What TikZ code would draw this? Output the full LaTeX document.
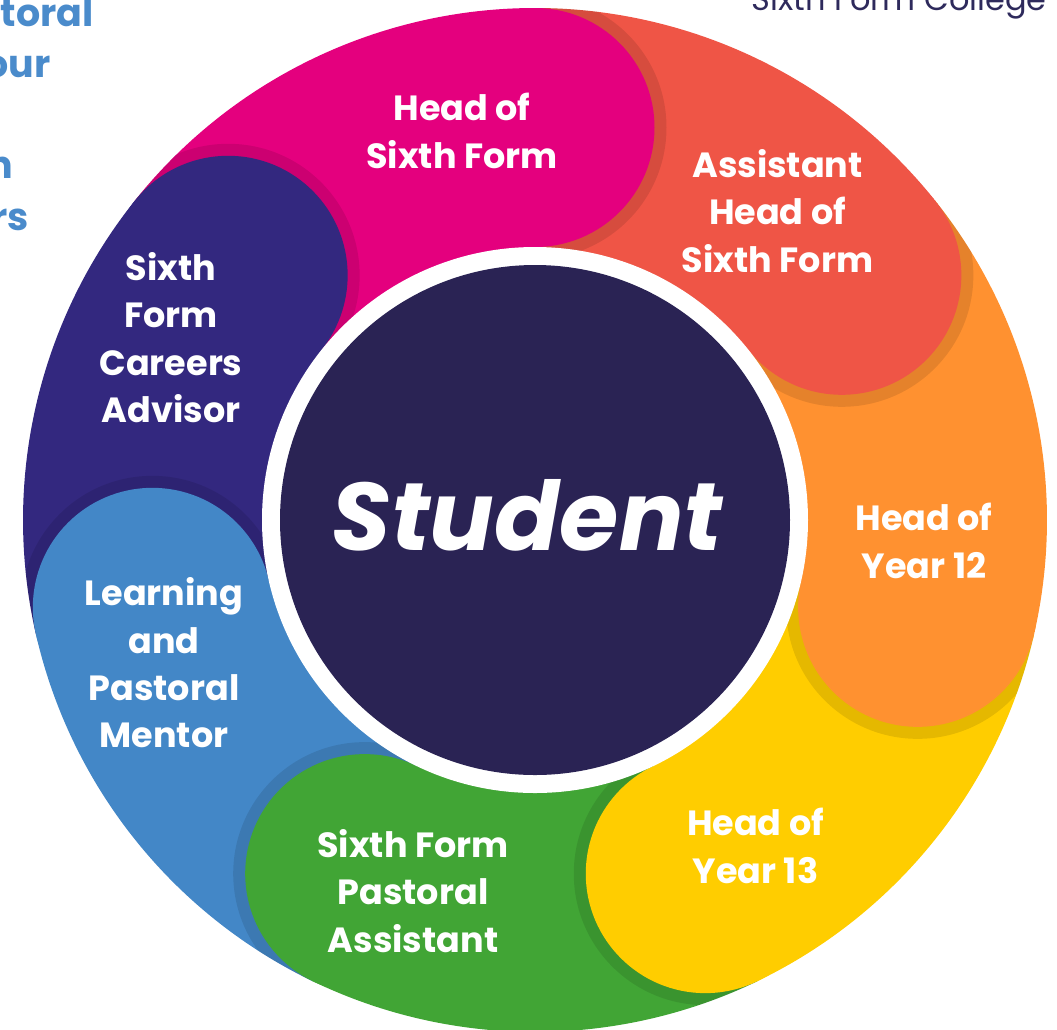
\documentclass[tikz,border=0pt]{standalone}
\usepackage{fontspec}
\setmainfont{Poppins}
\definecolor{cMag}{HTML}{E4007E}
\definecolor{cRed}{HTML}{EF5546}
\definecolor{cOra}{HTML}{FF9130}
\definecolor{cYel}{HTML}{FFCD00}
\definecolor{cGrn}{HTML}{41A535}
\definecolor{cBlu}{HTML}{4387C7}
\definecolor{cPur}{HTML}{33287F}
\definecolor{cCen}{HTML}{2A2354}
\definecolor{cFrag}{HTML}{4A8BCB}
\definecolor{cCol}{HTML}{2E2A5C}
\begin{document}
\begin{tikzpicture}[x=0.5pt,y=0.5pt,
  lab/.style={anchor=base,text=white,inner sep=0pt,font=\bfseries\fontsize{17.5}{21}\selectfont},
  frag/.style={anchor=base east,text=cFrag,inner sep=0pt,font=\bfseries\fontsize{19}{24}\selectfont},
  shade/.style={fill=black,fill opacity=0.1}]
\useasboundingbox (0,0) rectangle (1057,-1030);
\clip (0,0) rectangle (1057,-1030);
\begin{scope}[shift={(535,-520)}]
  % ring bodies
  \foreach \a/\b/\c in {141.4286/90/cMag, 90/38.5714/cRed, 38.5714/-12.8571/cOra,
      -12.8571/-64.2857/cYel, -64.2857/-115.7143/cGrn, -115.7143/-167.1429/cBlu,
      -167.1429/-218.5714/cPur}{
    \fill[\c] (0,0) -- (\a:512) arc[start angle=\a,end angle=\b,radius=512] -- cycle;
  }
  % caps with shadows
  \begin{scope}
    \clip (0,0) circle[radius=512];
    \foreach \t/\c in {90/cMag, 38.5714/cRed, -12.8571/cOra, -64.2857/cYel,
        -115.7143/cGrn, -167.1429/cBlu, 141.4286/cPur}{
      \begin{scope}
        \clip (0,0) -- (\t:800) -- ({\t-20}:800) -- ({\t-40}:800) -- cycle;
        \fill[shade] (\t:392.5) circle[radius=131.5];
      \end{scope}
      \fill[\c] (\t:392.5) circle[radius=119.5];
    }
  \end{scope}
  % centre
  \fill[white] (0,0) circle[radius=273];
  \fill[cCen] (0,0) circle[radius=255];
\end{scope}

\node[anchor=base,text=white,inner sep=0pt,font=\bfseries\itshape\fontsize{48}{48}\selectfont] (student) at (527,-550) {Student};

% Head of Sixth Form
\node[lab] (hsf1) at (462,-120) {Head of};
\node[lab] (hsf2) at (462,-168) {Sixth Form};
% Assistant Head of Sixth Form
\node[lab] (ahs1) at (777.5,-177) {Assistant};
\node[lab] (ahs2) at (777.5,-224) {Head of};
\node[lab] (ahs3) at (777.5,-272) {Sixth Form};
% Head of Year 12
\node[lab] (hy121) at (924,-530) {Head of};
\node[lab] (hy122) at (924,-578) {Year 12};
% Head of Year 13
\node[lab] (hy131) at (755.5,-835) {Head of};
\node[lab] (hy132) at (755.5,-883) {Year 13};
% Sixth Form Pastoral Assistant
\node[lab] (spa1) at (413,-857) {Sixth Form};
\node[lab] (spa2) at (413,-904) {Pastoral};
\node[lab] (spa3) at (413,-952) {Assistant};
% Learning and Pastoral Mentor
\node[lab] (lpm1) at (164,-605) {Learning};
\node[lab] (lpm2) at (164,-653) {and};
\node[lab] (lpm3) at (164,-700) {Pastoral};
\node[lab] (lpm4) at (164,-747) {Mentor};
% Sixth Form Careers Advisor
\node[lab] (sca1) at (171,-280) {Sixth};
\node[lab] (sca2) at (171,-327) {Form};
\node[lab] (sca3) at (171,-375) {Careers};
\node[lab] (sca4) at (171,-422) {Advisor};

% cut-off fragments at the edges
\node[frag] (fr1) at (94,-26) {storal};
\node[frag] (fr2) at (51,-77) {our};
\node[frag] (fr3) at (14,-178) {n};
\node[frag] (fr4) at (29,-230) {rs};
\node[anchor=base east,text=cCol,inner sep=0pt,font=\fontsize{16}{18}\selectfont] (college) at (1047,-10) {Sixth Form College};
\end{tikzpicture}
\end{document}
